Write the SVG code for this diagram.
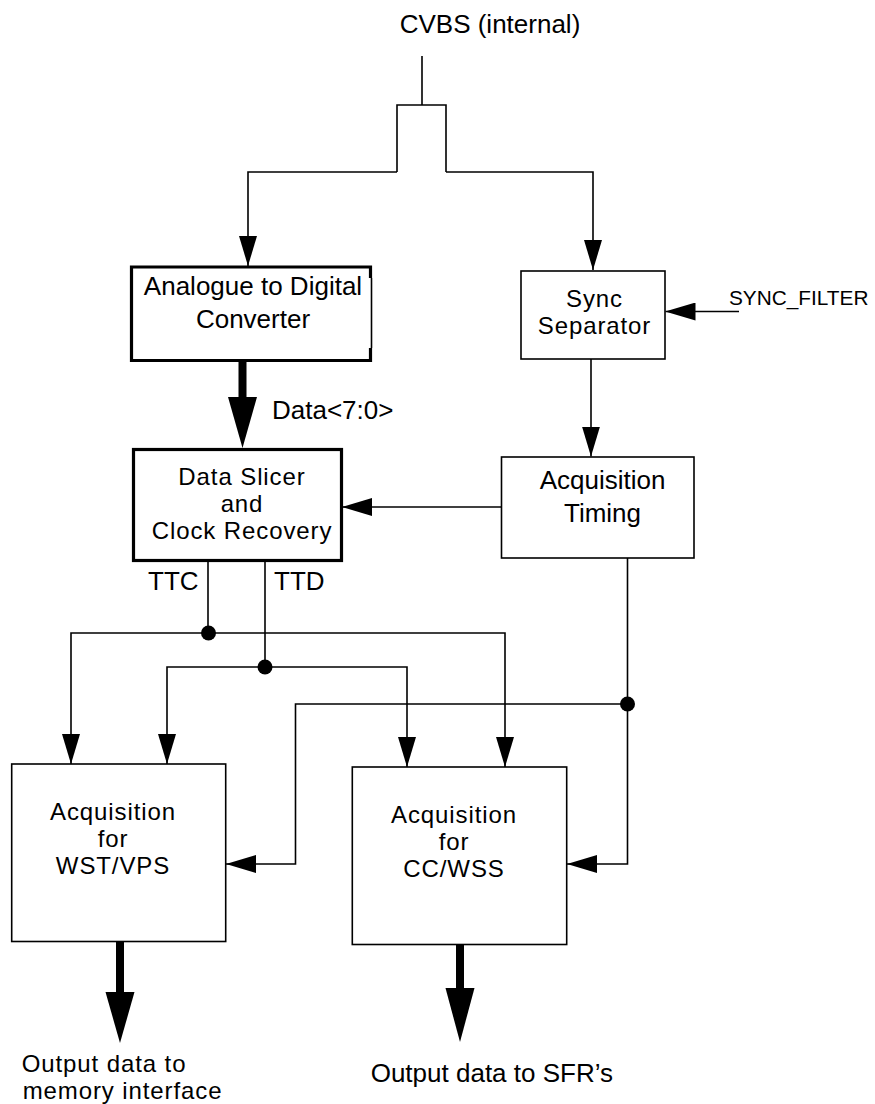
<svg xmlns="http://www.w3.org/2000/svg" width="875" height="1104" viewBox="0 0 875 1104">
<style>
text{font-family:"Liberation Sans",Arial,sans-serif;font-size:26px;fill:#000}
.c{text-anchor:middle}
.m{font-size:24px;letter-spacing:0.9px}
.box{fill:#fff;stroke:#000;stroke-width:1.6}
.thick{fill:#fff;stroke:#000;stroke-width:3.2}
.ln{fill:none;stroke:#000;stroke-width:1.6}
.ah{fill:#000;stroke:none}
</style>
<defs>
<marker id="arr" markerUnits="userSpaceOnUse" markerWidth="30" markerHeight="18" viewBox="0 0 30 18" refX="30" refY="9" orient="auto">
<path d="M0,0 L30,9 L0,18 Z" fill="#000"/>
</marker>
</defs>

<g id="connectors">
<path class="ln" d="M422,56 V105 M397,172 V105 H446 V172"/>
<path class="ln" d="M397,172 H248 V266" marker-end="url(#arr)"/>
<path class="ln" d="M446,172 H593 V270" marker-end="url(#arr)"/>
<rect class="ah" x="238.5" y="361" width="8" height="37"/>
<path class="ah" d="M228,397 L257,397 L242.5,448 Z"/>
<path class="ln" d="M739,311.5 H665.5" marker-end="url(#arr)"/>
<path class="ln" d="M591,359 V456.5" marker-end="url(#arr)"/>
<path class="ln" d="M501.5,507 H342" marker-end="url(#arr)"/>
<path class="ln" d="M208,561 V633"/>
<path class="ln" d="M208,633 H71 V764" marker-end="url(#arr)"/>
<path class="ln" d="M208,633 H505 V767" marker-end="url(#arr)"/>
<path class="ln" d="M265,561 V667"/>
<path class="ln" d="M265,667 H167 V764" marker-end="url(#arr)"/>
<path class="ln" d="M265,667 H407 V767" marker-end="url(#arr)"/>
<path class="ln" d="M627.5,558 V864 H567" marker-end="url(#arr)"/>
<path class="ln" d="M627.5,704 H295.5 V864 H226" marker-end="url(#arr)"/>
<circle cx="208.5" cy="633" r="7.5" fill="#000"/>
<circle cx="265" cy="667" r="7.5" fill="#000"/>
<circle cx="627.5" cy="704" r="7.5" fill="#000"/>
<rect class="ah" x="116" y="941" width="8" height="52"/>
<path class="ah" d="M105.5,992 L134.5,992 L120,1043 Z"/>
<rect class="ah" x="456" y="944" width="8" height="45"/>
<path class="ah" d="M445.5,988 L474.5,988 L460,1042 Z"/>
</g>

<g id="cvbs"><text class="c" x="490" y="33">CVBS (internal)</text></g>

<g id="adc">
<path class="thick" d="M370.5,278 V267 H131.5 V360.5 H370.5 V348"/>
<path class="ln" d="M371.5,278 V348"/>
<text class="c" x="253" y="295">Analogue to Digital</text>
<text class="c" x="253" y="327.5">Converter</text>
</g>

<g id="datalabel"><text x="272" y="419">Data&lt;7:0&gt;</text></g>

<g id="sync">
<rect class="box" x="521" y="271" width="144" height="88"/>
<text class="c m" x="594.5" y="307">Sync</text>
<text class="c m" x="594.5" y="334">Separator</text>
</g>
<g id="syncfilter"><text x="729" y="305" style="font-size:20.8px">SYNC_FILTER</text></g>

<g id="slicer">
<rect class="thick" x="133.5" y="449.5" width="208" height="111"/>
<text class="c m" x="242" y="484.5">Data Slicer</text>
<text class="c m" x="242" y="511.5">and</text>
<text class="c m" x="242" y="538.5">Clock Recovery</text>
</g>

<g id="acqtiming">
<rect class="box" x="501.5" y="457" width="192.5" height="101"/>
<text class="c" x="602.5" y="489">Acquisition</text>
<text class="c" x="602.5" y="521.5">Timing</text>
</g>

<g id="ttc"><text x="148" y="590">TTC</text></g>
<g id="ttd"><text x="274" y="590">TTD</text></g>

<g id="wst">
<rect class="box" x="11.7" y="764" width="214" height="177.5"/>
<text class="c m" x="113" y="820">Acquisition</text>
<text class="c m" x="113" y="847">for</text>
<text class="c m" x="113" y="874">WST/VPS</text>
</g>

<g id="cc">
<rect class="box" x="352.3" y="767" width="214.4" height="177.5"/>
<text class="c m" x="454" y="823">Acquisition</text>
<text class="c m" x="454" y="850">for</text>
<text class="c m" x="454" y="877">CC/WSS</text>
</g>

<g id="outmem">
<text class="m" x="21.7" y="1072">Output data to</text>
<text class="m" x="22.7" y="1098.5">memory interface</text>
</g>
<g id="outsfr"><text x="370.7" y="1082">Output data to SFR’s</text></g>
</svg>
